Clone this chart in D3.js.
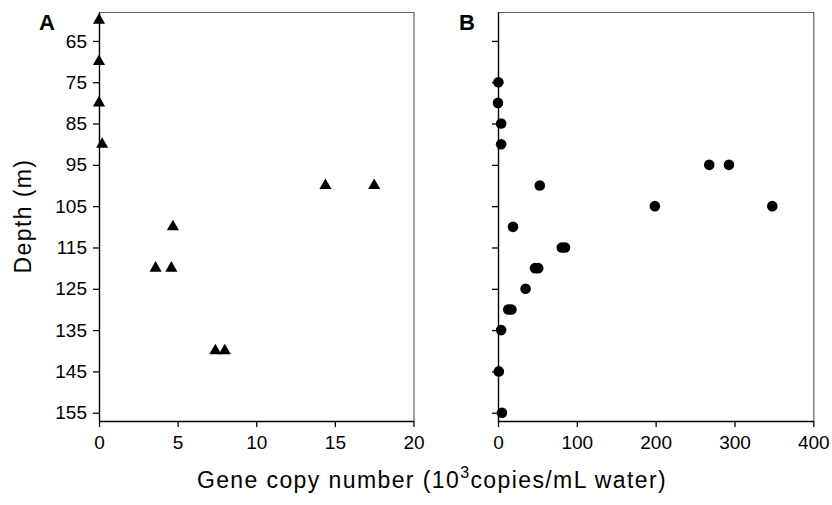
<!DOCTYPE html>
<html>
<head>
<meta charset="utf-8">
<script src="https://cdn.jsdelivr.net/npm/d3@7"></script>
<style>
  body { margin: 0; background: #fff; }
  text { font-family: "Liberation Sans", Arial, sans-serif; fill: #000; }
</style>
</head>
<body>
<script>
// panel A (triangles): depth (m) and gene copies (10^3/mL)
var depthA = [60, 70, 80, 90, 100, 100, 110, 120, 120, 140, 140];
var copiesA = [0, 0, 0, 0.2, 14.4, 17.5, 4.7, 3.6, 4.6, 7.4, 8.0];

// panel B (circles)
var depthB = [75, 80, 85, 90, 95, 95, 100, 105, 105, 110, 115, 115, 120, 120, 125, 130, 130, 135, 145, 155];
var copiesB = [0.5, 0, 4, 4, 268, 293, 53, 199, 348, 19, 81, 85, 47, 51, 35, 13, 17, 4, 1, 5];

var depthTicks = [65, 75, 85, 95, 105, 115, 125, 135, 145, 155];
var ticksA = [0, 5, 10, 15, 20];
var ticksB = [0, 100, 200, 300, 400];

var width = 832, height = 505;
var plotTop = 12, plotBottom = 421;

var svg = d3.select("body").append("svg")
    .attr("width", width)
    .attr("height", height);

var y = d3.scaleLinear().domain([58, 157]).range([plotTop, plotBottom]);

function panel(x0, x1, xDomain, xTicks, letter, letterX, showYLabels) {
  var x = d3.scaleLinear().domain(xDomain).range([x0, x1]);
  var g = svg.append("g");

  // grey frame on top and right
  g.append("path")
      .attr("d", "M" + x0 + "," + (plotTop + 0.5) + "H" + (x1 + 0.5) + "V" + plotBottom)
      .attr("fill", "none")
      .attr("stroke", "#666")
      .attr("stroke-width", 1.2);

  var xAxis = g.append("g")
      .attr("transform", "translate(0," + plotBottom + ")")
      .call(d3.axisBottom(x).tickValues(xTicks).tickSize(6).tickPadding(9).tickSizeOuter(0));

  var yAxis = g.append("g")
      .attr("transform", "translate(" + x0 + ",0)")
      .call(d3.axisLeft(y).tickValues(depthTicks).tickSize(6).tickPadding(6).tickSizeOuter(0)
        .tickFormat(showYLabels ? d3.format("d") : ""));

  [xAxis, yAxis].forEach(function(a) {
    a.selectAll("path.domain").attr("stroke", "#000").attr("stroke-width", 1.4);
    a.selectAll("line").attr("stroke", "#000").attr("stroke-width", 1.3);
    a.selectAll("text").attr("font-size", 19).attr("fill", "#000")
      .attr("font-family", "'Liberation Sans', Arial, sans-serif");
  });

  svg.append("text")
      .attr("x", letterX)
      .attr("y", 29.5)
      .attr("font-size", 22)
      .attr("font-weight", "bold")
      .text(letter);

  return { g: g, x: x };
}

var pA = panel(99, 413.5, [0, 20], ticksA, "A", 39, true);
var pB = panel(498, 813.3, [0, 400], ticksB, "B", 459, false);

var triangle = d3.symbol().type(d3.symbolTriangle).size(64);

pA.g.selectAll("path.pt")
    .data(depthA)
    .enter().append("path")
    .attr("class", "pt")
    .attr("d", triangle)
    .attr("transform", function(d, i) { return "translate(" + pA.x(copiesA[i]) + "," + y(d) + ")"; })
    .attr("fill", "#000");

pB.g.selectAll("circle.pt")
    .data(depthB)
    .enter().append("circle")
    .attr("class", "pt")
    .attr("cx", function(d, i) { return pB.x(copiesB[i]); })
    .attr("cy", function(d) { return y(d); })
    .attr("r", 5.3)
    .attr("fill", "#000");

// axis titles
svg.append("text")
    .attr("transform", "translate(31,216) rotate(-90)")
    .attr("text-anchor", "middle")
    .attr("font-size", 23)
    .attr("letter-spacing", 1.4)
    .text("Depth (m)");

var xt = svg.append("text")
    .attr("x", 432)
    .attr("y", 488)
    .attr("text-anchor", "middle")
    .attr("font-size", 23)
    .attr("letter-spacing", 1.4);
xt.append("tspan").text("Gene copy number (10");
xt.append("tspan").attr("dy", -10).attr("font-size", 16).text("3");
xt.append("tspan").attr("dy", 10).text("copies/mL water)");
</script>
</body>
</html>
